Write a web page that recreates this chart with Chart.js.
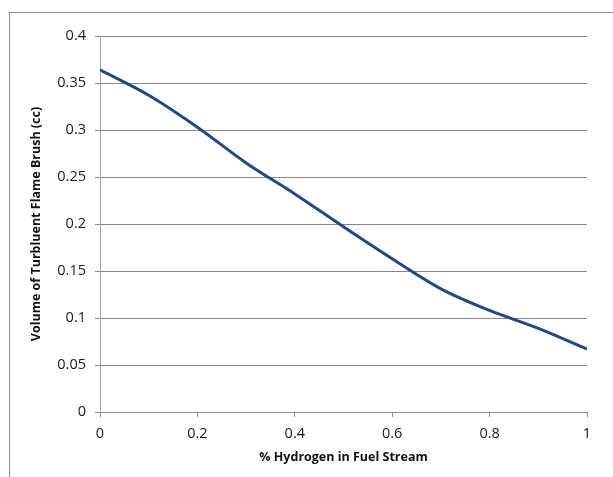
<!DOCTYPE html>
<html>
<head>
<meta charset="utf-8">
<script src="https://cdn.jsdelivr.net/npm/chart.js@4.4.1/dist/chart.umd.min.js"></script>
<style>
html,body{margin:0;padding:0;background:#fff;}
#wrap{position:relative;width:613px;height:477px;overflow:hidden;}
canvas{display:block;}
</style>
</head>
<body>
<div id="wrap"><canvas id="c" width="613" height="477"></canvas></div>
<script>
const hydrogenFraction = [0, 0.1, 0.2, 0.3, 0.4, 0.5, 0.6, 0.7, 0.8, 0.9, 1.0];
const flameBrushVolume = [0.364, 0.337, 0.303, 0.265, 0.232, 0.197, 0.163, 0.131, 0.108, 0.089, 0.067];
const yTickLabels = ["0", "0.05", "0.1", "0.15", "0.2", "0.25", "0.3", "0.35", "0.4"];
const xTickLabels = ["0", "0.2", "0.4", "0.6", "0.8", "1"];
const xTitle = "% Hydrogen in Fuel Stream";
const yTitle = "Volume of Turbluent Flame Brush (cc)";

const FONT = "'Open Sans', 'Liberation Sans', sans-serif";

const borderPlugin = {
  id: 'outerBorder',
  afterDraw(chart) {
    const ctx = chart.ctx;
    ctx.save();
    ctx.strokeStyle = '#8c8c8c';
    ctx.lineWidth = 1;
    ctx.strokeRect(9.5, 12.5, 800, 800);
    ctx.restore();
  }
};

new Chart(document.getElementById('c'), {
  type: 'line',
  data: {
    datasets: [{
      data: hydrogenFraction.map((x, i) => ({x: x, y: flameBrushVolume[i]})),
      borderColor: '#234a80',
      borderWidth: 3,
      pointRadius: 0,
      tension: 0.35,
      fill: false
    }]
  },
  plugins: [borderPlugin],
  options: {
    responsive: false,
    animation: false,
    events: [],
    layout: { padding: { left: 29, top: 36, right: 26, bottom: 12 } },
    plugins: { legend: { display: false }, tooltip: { enabled: false } },
    scales: {
      x: {
        type: 'linear',
        min: 0, max: 1,
        afterFit(s) { s.height = 53; },
        afterBuildTicks(s) { s.ticks = xTickLabels.map(t => ({value: parseFloat(t)})); },
        ticks: {
          callback: (v, i) => xTickLabels[i],
          font: { family: FONT, size: 14.5 },
          color: '#1a1a1a',
          padding: 8,
          maxRotation: 0
        },
        grid: { drawOnChartArea: false, drawTicks: true, tickLength: 5, color: '#8c8c8c' },
        border: { display: true, color: '#8c8c8c' },
        title: {
          display: true,
          text: xTitle,
          font: { family: FONT, size: 12.5, weight: 'bold' },
          color: '#111',
          padding: { top: 0, bottom: 0 }
        }
      },
      y: {
        type: 'linear',
        min: 0, max: 0.4,
        afterFit(s) { s.width = 71; },
        afterBuildTicks(s) { s.ticks = yTickLabels.map(t => ({value: parseFloat(t)})); },
        ticks: {
          callback: (v, i) => yTickLabels[i],
          font: { family: FONT, size: 14.5 },
          color: '#1a1a1a',
          padding: 9
        },
        grid: { drawOnChartArea: true, drawTicks: true, tickLength: 5, color: '#878787' },
        border: { display: true, color: '#a6a6a6' },
        title: {
          display: true,
          text: yTitle,
          font: { family: FONT, size: 12.5, weight: 'bold' },
          color: '#111',
          padding: { top: 0, bottom: 0 }
        }
      }
    }
  }
});
</script>
</body>
</html>
